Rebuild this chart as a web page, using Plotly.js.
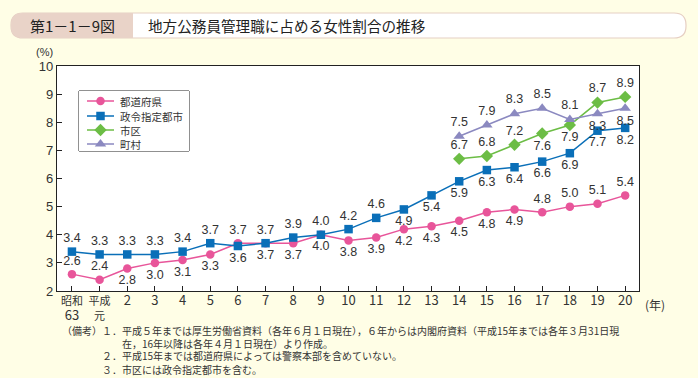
<!DOCTYPE html>
<html><head><meta charset="utf-8">
<script src="https://cdn.plot.ly/plotly-3.0.1.min.js"></script>
<style>html,body{margin:0;padding:0;background:#FFFEE6;}#chart{width:698px;height:378px;}</style>
</head><body><div id="chart"></div>
<script>
// ---- data ----
const categories = ["昭和63","平成元","2","3","4","5","6","7","8","9","10","11","12","13","14","15","16","17","18","19","20"];
const tickLabels = ["昭和<br><span style='font-size:13px'>63</span>","平成<br>元","2","3","4","5","6","7","8","9","10","11","12","13","14","15","16","17","18","19","20"];
const todofuken = [2.6,2.4,2.8,3.0,3.1,3.3,3.7,3.7,3.7,4.0,3.8,3.9,4.2,4.3,4.5,4.8,4.9,4.8,5.0,5.1,5.4];
const seirei    = [3.4,3.3,3.3,3.3,3.4,3.7,3.6,3.7,3.9,4.0,4.2,4.6,4.9,5.4,5.9,6.3,6.4,6.6,6.9,7.7,7.8];
const seireiLabels = ["3.4","3.3","3.3","3.3","3.4","3.7","3.6","3.7","3.9","4.0","4.2","4.6","4.9","5.4","5.9","6.3","6.4","6.6","6.9","7.7","8.2"];
const laterCategories = ["14","15","16","17","18","19","20"];
const shiku = [6.7,6.8,7.2,7.6,7.9,8.7,8.9];
const choson = [7.5,7.9,8.3,8.5,8.1,8.3,8.5];
const names = ["都道府県","政令指定都市","市区","町村"];
const colors = ["#E8559A","#0A6FB8","#6CBD45","#8B89C0"];
const symbols = ["circle","square","diamond","triangle-up"];
const sizes = [8.5,8.5,9.5,10];

// label positions
const T="top center", B="bottom center";
const posTodo = [T,T,B,B,B,B,T,B,B,B,B,B,B,B,B,B,B,T,T,T,T];
const posSeirei = [T,T,T,T,T,T,B,T,T,T,T,T,B,B,B,B,B,B,B,B,B];
const posShiku = [T,T,T,B,B,T,T];
const posChoson = [T,T,T,T,T,B,B];

const txtFont = {family:"Liberation Sans, Arial, sans-serif", size:12.5, color:"#333"};
function tr(i, x, y, text, pos){
  return {type:"scatter", mode:"lines+markers+text", name:names[i], x:x, y:y,
    text:text, textposition:pos, textfont:txtFont, cliponaxis:false, showlegend:false,
    line:{color:colors[i], width:1.5}, marker:{color:colors[i], symbol:symbols[i], size:sizes[i]}};
}
const fmt = a => a.map(v => v.toFixed(1));
const data = [
  tr(0, categories, todofuken, fmt(todofuken), posTodo),
  tr(1, categories, seirei, seireiLabels, posSeirei),
  tr(2, laterCategories, shiku, fmt(shiku), posShiku),
  tr(3, laterCategories, choson, fmt(choson), posChoson)
];

// pixel -> paper helpers
const L=57, R=639, TOP=66, BOT=291;
const px = v => (v-L)/(R-L);
const py = v => (BOT-v)/(BOT-TOP);

// manual legend (swatches on an overlay axis measured in pixels)
const LG = {x0:79, x1:189, y0:91, y1:151, lineX0:87, lineX1:114, textX:118, rowY:[101,116,130,144]};
names.forEach((n,i)=>{
  const y = LG.rowY[i];
  data.push({type:"scatter", mode:"lines", x:[LG.lineX0,LG.lineX1], y:[y,y], xaxis:"x2", yaxis:"y2",
    showlegend:false, hoverinfo:"skip", line:{color:colors[i], width:1.5}});
  data.push({type:"scatter", mode:"markers", x:[(LG.lineX0+LG.lineX1)/2], y:[y], xaxis:"x2", yaxis:"y2",
    showlegend:false, hoverinfo:"skip", marker:{color:colors[i], symbol:symbols[i], size:sizes[i]}});
});

function roundRect(x0,y0,x1,y1,r){
  return `M${px(x0+r)},${py(y0)} L${px(x1-r)},${py(y0)} Q${px(x1)},${py(y0)} ${px(x1)},${py(y0+r)} L${px(x1)},${py(y1-r)} Q${px(x1)},${py(y1)} ${px(x1-r)},${py(y1)} L${px(x0+r)},${py(y1)} Q${px(x0)},${py(y1)} ${px(x0)},${py(y1-r)} L${px(x0)},${py(y0+r)} Q${px(x0)},${py(y0)} ${px(x0+r)},${py(y0)} Z`;
}
function leftPart(x0,y0,x1,y1,r){
  return `M${px(x0+r)},${py(y0)} L${px(x1)},${py(y0)} L${px(x1)},${py(y1)} L${px(x0+r)},${py(y1)} Q${px(x0)},${py(y1)} ${px(x0)},${py(y1-r)} L${px(x0)},${py(y0+r)} Q${px(x0)},${py(y0)} ${px(x0+r)},${py(y0)} Z`;
}

const cjk = "Noto Sans CJK JP, sans-serif";
const notesText = [
  "（備考）１．平成５年までは厚生労働省資料（各年６月１日現在），６年からは内閣府資料（平成15年までは各年３月31日現",
  "　　　　　　在，16年以降は各年４月１日現在）より作成。",
  "　　　　２．平成15年までは都道府県によっては警察本部を含めていない。",
  "　　　　３．市区には政令指定都市を含む。"
];
const notesY = [330, 343, 356, 369];
const pa = (text,x,y,anchor,font) => ({text:text, x:px(x), y:py(y), xref:"paper", yref:"paper", showarrow:false, xanchor:anchor, yanchor:"middle", font:font});
const tickFont = {family:"Liberation Sans, Arial", size:13, color:"#333"};
const annotations = [
  pa("第1－1－9図", 72, 25.5, "center", {family:cjk, size:15, color:"#222"}),
  pa("地方公務員管理職に占める女性割合の推移", 146, 25.5, "left", {family:cjk, size:14.6, color:"#222"}),
  pa("(%)", 44, 52, "center", {family:"Liberation Sans, Arial", size:11, color:"#333"}),
  pa("(年)", 643, 304, "left", {family:cjk, size:12, color:"#333"})
].concat(notesText.map((t,i) => Object.assign(pa(t, 61, notesY[i], "left", {family:cjk, size:10, color:"#333"}), {borderpad:0})))
 .concat(names.map((n,i) => pa(n, LG.textX, LG.rowY[i], "left", {family:cjk, size:10.5, color:"#333"})));

const layout = {
  width:698, height:378,
  margin:{l:L, r:698-R, t:TOP, b:378-BOT},
  paper_bgcolor:"#FFFEE6", plot_bgcolor:"#FFFFFF",
  showlegend:false,
  xaxis:{type:"category", categoryarray:categories, range:[-0.54,20.5], showgrid:false, zeroline:false, showline:true, linecolor:"#222", linewidth:1.2,
    mirror:true, ticks:"inside", ticklen:5, tickcolor:"#222", tickangle:0,
    tickmode:"array", tickvals:categories, ticktext:tickLabels.map(t => t.includes("<br>") ? t : "<span style='font-size:13px'>"+t+"</span>"),
    tickfont:{family:"Noto Sans CJK JP, Liberation Sans", size:11, color:"#333"}},
  yaxis:{range:[2,10], dtick:1, showgrid:false, zeroline:false, showline:true, linecolor:"#222", linewidth:1.2,
    mirror:true, ticks:"inside", ticklen:5, tickcolor:"#222", tickfont:tickFont},
  xaxis2:{domain:[px(LG.x0), px(LG.x1)], range:[LG.x0, LG.x1], visible:false, anchor:"y2"},
  yaxis2:{domain:[py(LG.y1), py(LG.y0)], range:[LG.y1, LG.y0], visible:false, anchor:"x2"},
  shapes:[
    {type:"path", xref:"paper", yref:"paper", path:roundRect(11,13,686,38,12), fillcolor:"#FFFFFF", line:{color:"#E6CFC3", width:1.2}},
    {type:"path", xref:"paper", yref:"paper", path:leftPart(11,13,133,38,12), fillcolor:"#E9D3C8", line:{width:0}},
    {type:"rect", xref:"paper", yref:"paper", x0:px(LG.x0), x1:px(LG.x1), y0:py(LG.y1), y1:py(LG.y0), fillcolor:"#FFFFFF", line:{color:"#222", width:1}, layer:"below"}
  ],
  annotations:annotations
};
Plotly.newPlot("chart", data, layout, {displayModeBar:false, staticPlot:true});
</script></body></html>
